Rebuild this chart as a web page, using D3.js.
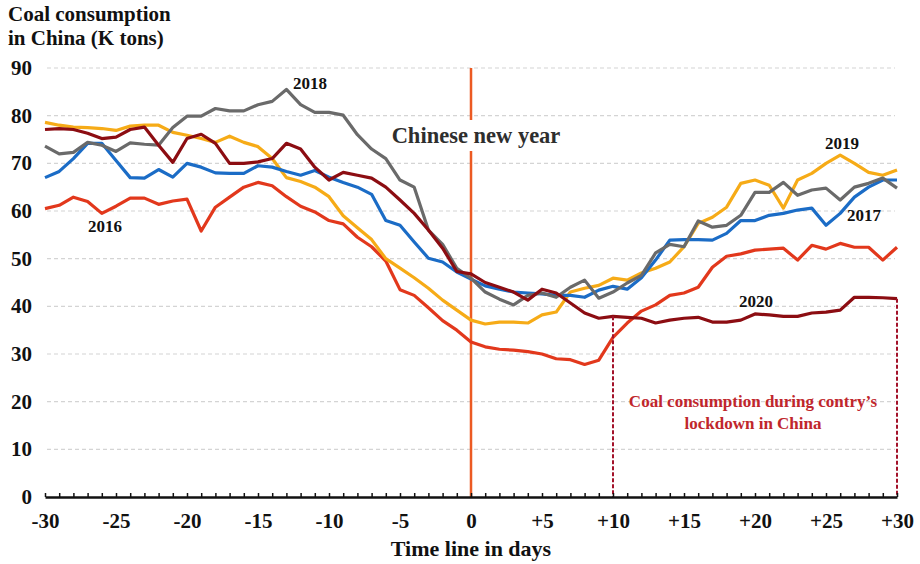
<!DOCTYPE html>
<html>
<head>
<meta charset="utf-8">
<script src="https://cdn.jsdelivr.net/npm/d3@7"></script>
<style>
  html, body { margin: 0; padding: 0; background: #fff; }
  svg { display: block; }
  text { font-family: "Liberation Serif", "Times New Roman", serif; font-weight: bold; }
</style>
</head>
<body>
<svg id="chart" width="920" height="564"></svg>
<script>
// ---- data ----
const days = d3.range(-30, 31);
const xTickValues = [-30, -25, -20, -15, -10, -5, 0, 5, 10, 15, 20, 25, 30];
const xTickLabels = ["-30", "-25", "-20", "-15", "-10", "-5", "0", "+5", "+10", "+15", "+20", "+25", "+30"];
const yTickValues = [0, 10, 20, 30, 40, 50, 60, 70, 80, 90];

const y2016 = [60.5, 61.2, 62.9, 62, 59.5, 61, 62.7, 62.7, 61.4, 62.1,
  62.5, 55.8, 60.8, 62.9, 65, 66, 65.3, 63, 61, 59.8,
  58, 57.3, 54.5, 52.5, 49.5, 43.5, 42.3, 39.7, 37, 35,
  32.5, 31.5, 31, 30.8, 30.5, 30, 29, 28.8, 27.8, 28.7,
  33.5, 36.5, 39, 40.3, 42.3, 42.8, 44, 48.2, 50.5, 51,
  51.8, 52, 52.2, 49.7, 52.8, 52, 53.2, 52.4, 52.4, 49.7, 52.4];

const y2017 = [67, 68.3, 71, 74.2, 74.2, 70.6, 67, 66.9, 68.7, 67.1,
  70, 69.2, 68, 67.9, 67.9, 69.5, 69.2, 68.3, 67.5, 68.5,
  67.1, 66, 65, 63.5, 58, 57, 53.5, 50.1, 49.3, 47.2,
  45.7, 44.3, 43.6, 43, 42.8, 42.6, 42.3, 42.3, 41.9, 43.4,
  44.2, 43.6, 46, 49.7, 53.9, 54, 54, 53.9, 55.3, 58,
  58, 59.1, 59.5, 60.2, 60.6, 57, 59.5, 62.9, 65, 66.5, 66.5];

const y2018 = [73.6, 72, 72.3, 74.4, 73.8, 72.5, 74.3, 74, 73.8, 77.5,
  79.9, 79.9, 81.5, 81, 81, 82.3, 83, 85.5, 82.3, 80.7,
  80.7, 80.1, 76, 73, 71, 66.5, 65, 56, 53, 48,
  45.9, 43, 41.5, 40.3, 42.3, 42.8, 41.9, 44, 45.5, 41.7,
  43, 44.9, 46.5, 51.2, 53, 52.5, 57.9, 56.6, 57, 59.1,
  63.9, 63.9, 66, 63.3, 64.4, 64.8, 62.3, 65, 65.8, 66.9, 64.8];

const y2019 = [78.6, 78, 77.6, 77.5, 77.3, 76.9, 77.8, 78, 78, 76.5,
  75.9, 75.2, 74.4, 75.7, 74.4, 73.5, 71, 67, 66.2, 65,
  63, 59, 56.5, 54, 50, 48, 46, 43.8, 41.3, 39.2,
  37.1, 36.3, 36.7, 36.7, 36.5, 38.2, 38.8, 43, 43.8, 44.4,
  45.9, 45.5, 47, 48, 49.3, 52.5, 57.4, 58.7, 60.8, 65.8,
  66.5, 65.4, 60.6, 66.5, 67.9, 70, 71.7, 70, 68.1, 67.5, 68.6];

const y2020 = [77.1, 77.3, 77.1, 76.3, 75.2, 75.5, 77.1, 77.6, 73.8, 70.2,
  75.2, 76.1, 74.2, 70, 70, 70.3, 71, 74.2, 73, 69.2,
  66.5, 68.1, 67.5, 66.9, 65, 62.3, 59.5, 56, 52.2, 47.3,
  46.8, 45, 44, 43, 41.3, 43.6, 42.8, 40.7, 38.6, 37.5,
  37.9, 37.7, 37.5, 36.5, 37.1, 37.5, 37.7, 36.7, 36.7, 37.1,
  38.4, 38.2, 37.9, 37.9, 38.6, 38.8, 39.2, 41.9, 41.9, 41.8, 41.6];

const seriesNames = ["2016", "2019", "2017", "2018", "2020"];
const seriesValues = [y2016, y2019, y2017, y2018, y2020];
const seriesColors = ["#e2381c", "#f6ab17", "#1b6cc6", "#6a6a6a", "#8c0d12"];

const lockdownStart = 10;
const lockdownEnd = 30;

// ---- chart ----
const svg = d3.select("#chart");
const x = d3.scaleLinear().domain([-30, 30]).range([45, 897]);
const y = d3.scaleLinear().domain([0, 90]).range([497, 68]);

// grid lines
svg.append("g")
  .selectAll("line")
  .data(yTickValues.filter(v => v > 0))
  .join("line")
  .attr("x1", x(-30) + 2).attr("x2", x(30) - 2)
  .attr("y1", d => y(d)).attr("y2", d => y(d))
  .attr("stroke", "#d4d4d4").attr("stroke-width", 1.2)
  .attr("stroke-dasharray", "4,3");

// y tick labels
svg.append("g")
  .selectAll("text")
  .data(yTickValues)
  .join("text")
  .attr("x", 32).attr("y", d => y(d) + 7)
  .attr("text-anchor", "end")
  .attr("font-size", 21)
  .attr("fill", "#111")
  .text(d => d);

// Chinese new year vertical line
svg.append("line")
  .attr("x1", x(0)).attr("x2", x(0))
  .attr("y1", y(90)).attr("y2", y(0))
  .attr("stroke", "#ec5a22").attr("stroke-width", 2.5);

// lines
const line = d3.line().x((d, i) => x(days[i])).y(d => y(d));
svg.append("g")
  .selectAll("path")
  .data(seriesValues)
  .join("path")
  .attr("d", d => line(d))
  .attr("fill", "none")
  .attr("stroke", (d, i) => seriesColors[i])
  .attr("stroke-width", 3.2)
  .attr("stroke-linejoin", "round");

// lockdown dashed lines
const lockIdx = [lockdownStart, lockdownEnd];
svg.append("g")
  .selectAll("line")
  .data(lockIdx)
  .join("line")
  .attr("x1", d => x(d)).attr("x2", d => x(d))
  .attr("y1", d => y(y2020[days.indexOf(d)]))
  .attr("y2", y(0))
  .attr("stroke", "#a3122a").attr("stroke-width", 2)
  .attr("stroke-dasharray", "4,2");

// Chinese new year label with white background
const cny = svg.append("g");
const cnyText = cny.append("text")
  .attr("x", x(0) + 5).attr("y", 143)
  .attr("text-anchor", "middle")
  .attr("font-size", 22.5)
  .attr("fill", "#2e2e2e")
  .text("Chinese new year");
const bb = cnyText.node().getBBox();
cny.insert("rect", "text")
  .attr("x", bb.x - 2).attr("y", bb.y - 3)
  .attr("width", bb.width + 4).attr("height", bb.height + 6)
  .attr("fill", "#fff");

// x axis
const axisG = svg.append("g").attr("transform", `translate(0,${y(0)})`);
axisG.call(d3.axisBottom(x).tickValues(days).tickSize(-4).tickFormat("").tickSizeOuter(0));
axisG.select(".domain").attr("stroke", "#111").attr("stroke-width", 2.5);
axisG.selectAll(".tick line").attr("stroke", "#111").attr("stroke-width", 1.5);

const labG = svg.append("g").attr("transform", `translate(0,${y(0)})`);
labG.call(d3.axisBottom(x).tickValues(xTickValues).tickSize(0)
  .tickFormat((d, i) => xTickLabels[i]));
labG.select(".domain").remove();
labG.selectAll(".tick text")
  .attr("dy", 0).attr("y", 31)
  .attr("font-size", 21)
  .attr("font-family", "'Liberation Serif', 'Times New Roman', serif")
  .attr("font-weight", "bold")
  .attr("fill", "#111");

// axis title
svg.append("text")
  .attr("x", 471).attr("y", 556)
  .attr("text-anchor", "middle")
  .attr("font-size", 22)
  .attr("fill", "#111")
  .text("Time line in days");

// y title
svg.append("text")
  .attr("x", 8).attr("y", 21)
  .attr("font-size", 21)
  .attr("fill", "#111")
  .text("Coal consumption");
svg.append("text")
  .attr("x", 8).attr("y", 45)
  .attr("font-size", 21)
  .attr("fill", "#111")
  .text("in China (K tons)");

// series labels
const seriesLabels = [
  { t: "2018", x: 310, y: 89 },
  { t: "2016", x: 105, y: 232 },
  { t: "2019", x: 842, y: 149 },
  { t: "2017", x: 864, y: 221 },
  { t: "2020", x: 756, y: 307 }
];
svg.append("g")
  .selectAll("text")
  .data(seriesLabels)
  .join("text")
  .attr("x", d => d.x).attr("y", d => d.y)
  .attr("text-anchor", "middle")
  .attr("font-size", 17)
  .attr("fill", "#111")
  .text(d => d.t);

// lockdown annotation
svg.append("text")
  .attr("x", 753).attr("y", 407)
  .attr("text-anchor", "middle")
  .attr("font-size", 17)
  .attr("fill", "#c0262c")
  .text("Coal consumption during contry\u2019s");
svg.append("text")
  .attr("x", 753).attr("y", 429)
  .attr("text-anchor", "middle")
  .attr("font-size", 17)
  .attr("fill", "#c0262c")
  .text("lockdown in China");
</script>
</body>
</html>
